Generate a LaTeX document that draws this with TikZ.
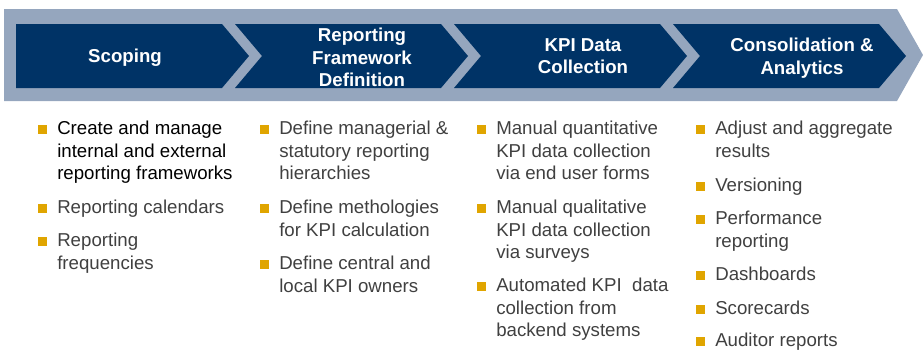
\documentclass[tikz,border=0pt]{standalone}
\usepackage{fontspec}
\setmainfont{Liberation Sans}
\definecolor{bandgray}{RGB}{149,166,190}
\definecolor{navy}{RGB}{0,51,102}
\definecolor{gold}{RGB}{224,165,0}
\definecolor{txtgray}{RGB}{64,64,64}

\begin{document}
\begin{tikzpicture}[x=0.75pt, y=-0.75pt,
  head/.style={text=white, font=\fontsize{14}{16.8}\selectfont\bfseries, align=center, anchor=north, inner sep=0pt},
  itm/.style={anchor=north west, align=left, inner sep=0pt, text=txtgray, font=\fontsize{14}{16.7}\selectfont, label={[bulsq]north west:{}}},
  bulsq/.style={fill=gold, minimum size=6.75pt, inner sep=0pt, anchor=north east, xshift=-7.5pt, yshift=-3pt}]

  \useasboundingbox (0,0) rectangle (923,350);
  \fill[bandgray] (4,9) -- (897,9) -- (923,55) -- (897,101) -- (4,101) -- cycle;
  \fill[navy] (16,24) -- (222,24) -- (249,56) -- (222,88) -- (16,88) -- cycle;
  \foreach \x in {235,454,673}
    \fill[navy] (\x,24) -- (\x+206,24) -- (\x+233,56) -- (\x+206,88) -- (\x,88) -- (\x+27,56) -- cycle;

  \node[head] (scop) at (125,49) {Scoping};
  \node[head] (rfd) at (362,28) {Reporting\\Framework\\Definition};
  \node[head] (kpi) at (583,38) {KPI Data\\Collection};
  \node[head] (cons) at (802,38) {Consolidation \&\\Analytics};

  \node[itm, text=black] (s1) at (57,121) {Create and manage\\internal and external\\reporting frameworks};
  \node[itm] (s2) at (57,200) {Reporting calendars};
  \node[itm] (s3) at (57,233) {Reporting\\frequencies};

  \node[itm] (r1) at (279,121) {Define managerial \&\\statutory reporting\\hierarchies};
  \node[itm] (r2) at (279,200) {Define methologies\\for KPI calculation};
  \node[itm] (r3) at (279,256) {Define central and\\local KPI owners};

  \node[itm] (k1) at (496,121) {Manual quantitative\\KPI data collection\\via end user forms};
  \node[itm] (k2) at (496,200) {Manual qualitative\\KPI data collection\\via surveys};
  \node[itm] (k3) at (496,278) {Automated KPI~ data\\collection from\\backend systems};

  \node[itm] (c1) at (715,121) {Adjust and aggregate\\results};
  \node[itm] (c2) at (715,178) {Versioning};
  \node[itm] (c3) at (715,211) {Performance\\reporting};
  \node[itm] (c4) at (715,267) {Dashboards};
  \node[itm] (c5) at (715,301) {Scorecards};
  \node[itm] (c6) at (715,333) {Auditor reports};
\end{tikzpicture}
\end{document}
